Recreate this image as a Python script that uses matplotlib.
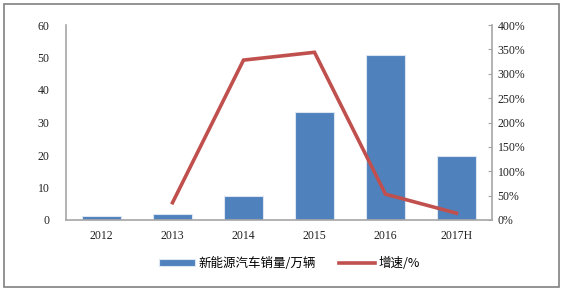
import matplotlib.pyplot as plt
from matplotlib.patches import Rectangle
from matplotlib.ticker import FuncFormatter

years = ['2012', '2013', '2014', '2015', '2016', '2017H']
sales = [1.28, 1.76, 7.48, 33.1, 50.7, 19.6]      # 新能源汽车销量/万辆
growth_years = ['2013', '2014', '2015', '2016', '2017H']
growth = [35.5, 328, 344, 53, 14]                 # 增速/%

plt.rcParams['font.family'] = ['Liberation Serif', 'Noto Sans CJK SC']

fig = plt.figure(figsize=(5.62, 2.91), dpi=100)
ax = fig.add_axes([66 / 562, 71 / 291, 426 / 562, 195 / 291])

x = list(range(len(years)))
bars = ax.bar(x, sales, width=0.56, color='#4F81BD', edgecolor='#DCE6F2',
              linewidth=0.8, label='新能源汽车销量/万辆', zorder=2)
ax.set_xlim(-0.5, len(years) - 0.5)
ax.set_ylim(0, 60)
ax.set_yticks(range(0, 61, 10))
ax.set_xticks(x)
ax.set_xticklabels(years)

ax2 = ax.twinx()
gx = [years.index(y) for y in growth_years]
line, = ax2.plot(gx, growth, color='#C0504D', linewidth=2.6,
                 label='增速/%', solid_joinstyle='miter')
ax2.set_ylim(0, 400)
ax2.set_yticks(range(0, 401, 50))
ax2.yaxis.set_major_formatter(FuncFormatter(lambda v, p: f'{int(v)}%'))

for a in (ax, ax2):
    a.spines['top'].set_visible(False)
    for s in ('left', 'right', 'bottom'):
        a.spines[s].set_color('#A6A6A6')
        a.spines[s].set_linewidth(1.2)
    a.tick_params(labelsize=8.5, colors='#222222', length=0)
ax.spines['right'].set_visible(False)
ax2.spines['left'].set_visible(False)
ax2.spines['bottom'].set_visible(False)
ax.tick_params(axis='y', pad=12)
ax.tick_params(axis='x', pad=7)
ax2.tick_params(axis='y', length=3, direction='in', color='#A6A6A6', pad=4)

fig.legend(handles=[bars, line], loc='center', bbox_to_anchor=(0.515, 1 - 263 / 291),
           ncol=2, frameon=False, handlelength=2.9, handleheight=0.5,
           columnspacing=1.8, handletextpad=0.3,
           prop={'family': 'Noto Sans CJK SC', 'size': 9})

fig.patches.append(Rectangle((4 / 562, 4 / 291), 555 / 562, 283 / 291,
                             transform=fig.transFigure, fill=False,
                             edgecolor='#808080', linewidth=1.2))

plt.savefig('out.png', dpi=100)
